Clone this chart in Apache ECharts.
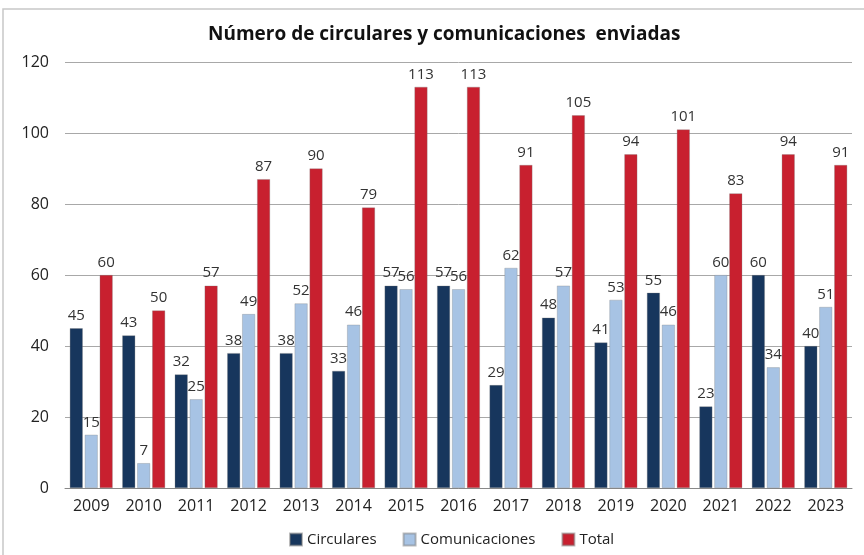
<!DOCTYPE html>
<html>
<head>
<meta charset="utf-8">
<script src="https://cdn.jsdelivr.net/npm/echarts@6/dist/echarts.min.js"></script>
<style>
  html, body { margin: 0; padding: 0; background: #fff; }
  #chart { width: 864px; height: 555px; }
</style>
</head>
<body>
<div id="chart"></div>
<script>
const years = ["2009", "2010", "2011", "2012", "2013", "2014", "2015", "2016",
  "2017", "2018", "2019", "2020", "2021", "2022", "2023"];
const circulares = [45, 43, 32, 38, 38, 33, 57, 57, 29, 48, 41, 55, 23, 60, 40];
const comunicaciones = [15, 7, 25, 49, 52, 46, 56, 56, 62, 57, 53, 46, 60, 34, 51];
const total = [60, 50, 57, 87, 90, 79, 113, 113, 91, 105, 94, 101, 83, 94, 91];

const font = "'Open Sans', sans-serif";

const chart = echarts.init(document.getElementById("chart"));

function barSeries(name, data, color) {
  return {
    name: name,
    type: "bar",
    data: data,
    barWidth: 13,
    barGap: "15%",
    itemStyle: { color: color, borderColor: "rgba(120,120,120,0.5)", borderWidth: 0.6 },
    label: {
      show: true,
      position: "top",
      distance: 5,
      color: "#333",
      fontFamily: font,
      fontSize: 15
    }
  };
}

chart.setOption({
  backgroundColor: "#fff",
  animation: false,
  graphic: [{
    type: "rect",
    shape: { x: 3, y: 9, width: 900, height: 600 },
    style: { fill: "none", stroke: "#c8c8c8", lineWidth: 1.5 },
    silent: true
  }],
  title: {
    text: "Número de circulares y comunicaciones  enviadas",
    left: 203,
    top: 20,
    textStyle: { fontFamily: font, fontSize: 19, fontWeight: "bold", color: "#111" }
  },
  legend: {
    bottom: 3,
    left: 284,
    itemWidth: 12,
    itemHeight: 12,
    itemGap: 26,
    icon: "rect",
    textStyle: { fontFamily: font, fontSize: 15, color: "#222" },
    data: ["Circulares", "Comunicaciones", "Total"]
  },
  grid: { left: 65, right: 12, top: 62, bottom: 67 },
  xAxis: {
    type: "category",
    data: years,
    axisTick: { show: false },
    axisLine: { lineStyle: { color: "#888", width: 1 } },
    axisLabel: { color: "#222", fontFamily: font, fontSize: 16, margin: 10 }
  },
  yAxis: {
    type: "value",
    min: 0,
    max: 120,
    interval: 20,
    axisLine: { show: false },
    axisTick: { show: false },
    splitLine: { lineStyle: { color: "#a8a8a8", width: 1 } },
    axisLabel: { color: "#222", fontFamily: font, fontSize: 16, margin: 16 }
  },
  series: [
    barSeries("Circulares", circulares, "#17365d"),
    barSeries("Comunicaciones", comunicaciones, "#a7c3e4"),
    barSeries("Total", total, "#c8202f")
  ]
});
</script>
</body>
</html>
